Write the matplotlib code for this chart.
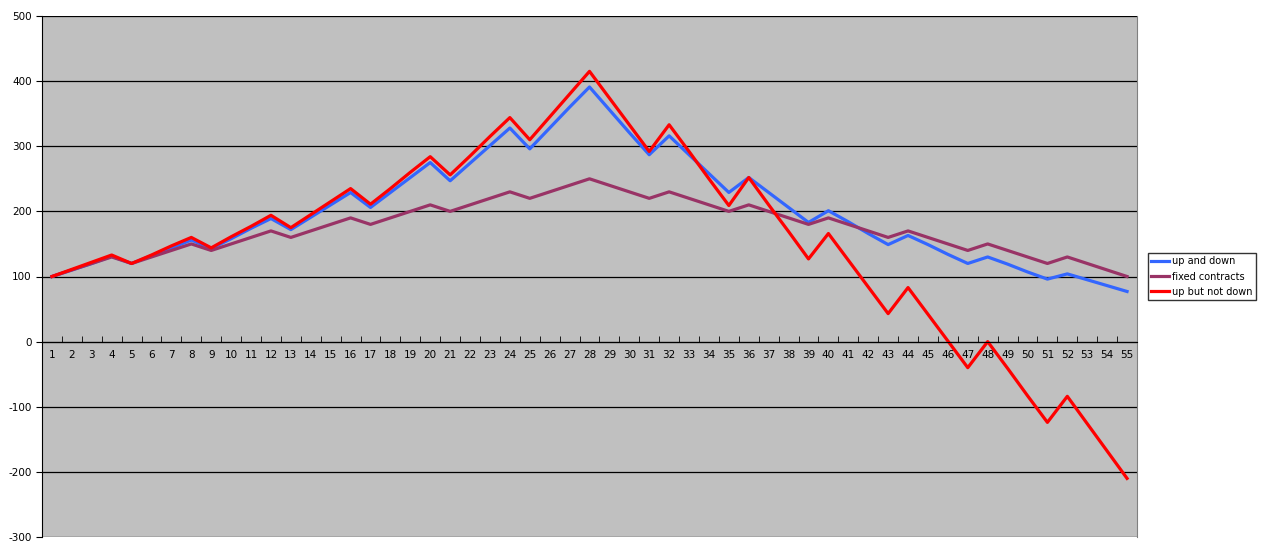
import numpy as np
import matplotlib.pyplot as plt

plt.rcParams['axes.unicode_minus'] = False

periods = list(range(1, 56))
up_and_down = [100, 110, 120, 131, 120, 132, 144, 156, 143, 158, 174, 189, 172, 191, 210, 229,
               206, 229, 252, 275, 247, 274, 301, 328, 296, 328, 360, 391, 356, 321, 287, 316,
               287, 258, 229, 252, 229, 206, 183, 201, 184, 166, 149, 163, 149, 134, 120, 130,
               119, 107, 96, 104, 95, 86, 77]
fixed_contracts = [100, 110, 120, 130, 120, 130, 140, 150, 140, 150, 160, 170, 160, 170, 180, 190,
                   180, 190, 200, 210, 200, 210, 220, 230, 220, 230, 240, 250, 240, 230, 220, 230,
                   220, 210, 200, 210, 200, 190, 180, 190, 180, 170, 160, 170, 160, 150, 140, 150,
                   140, 130, 120, 130, 120, 110, 100]
up_not_down = [100, 111, 122, 133, 120, 133, 147, 160, 144, 161, 177, 194, 175, 195, 215, 235,
               211, 235, 260, 284, 256, 285, 315, 344, 310, 345, 380, 415, 374, 333, 292, 333,
               292, 250, 209, 252, 210, 169, 127, 166, 125, 84, 43, 83, 42, 1, -40, 0,
               -41, -83, -124, -84, -126, -168, -210]

fig = plt.figure(figsize=(12.66, 5.47), dpi=100)
ax = fig.add_axes([42 / 1266, 1 - 537 / 547, (1137 - 42) / 1266, (537 - 16) / 547])
ax.set_facecolor('#C0C0C0')

ax.plot(periods, up_and_down, color='#3366FF', lw=2.3, label='up and down')
ax.plot(periods, fixed_contracts, color='#993366', lw=2.3, label='fixed contracts')
ax.plot(periods, up_not_down, color='#FF0000', lw=2.3, label='up but not down')

ax.set_xlim(0.5, 55.5)
ax.set_ylim(-300, 500)
ax.set_yticks(range(-300, 501, 100))
ax.yaxis.grid(True, color='black', lw=0.9)
ax.set_axisbelow(True)

ax.spines['bottom'].set_position(('data', 0))
ax.spines['top'].set_visible(False)
ax.spines['right'].set_color('#808080')
ax.set_xticks(periods)
ax.set_xticklabels([str(p) for p in periods], fontsize=7.5)
ax.set_xticks(np.arange(0.5, 56, 1), minor=True)
ax.tick_params(axis='x', which='major', length=0, pad=6)
ax.tick_params(axis='x', which='minor', length=4, direction='in')
ax.tick_params(axis='y', labelsize=7.5, length=4, direction='out')

ax.legend(loc='center left', bbox_to_anchor=(1.008, 0.5), fontsize=7, frameon=True,
          fancybox=False, edgecolor='black', handlelength=1.8, handletextpad=0.4,
          borderpad=0.35, borderaxespad=0.2, labelspacing=0.55)

fig.savefig('out.png', dpi=100)
